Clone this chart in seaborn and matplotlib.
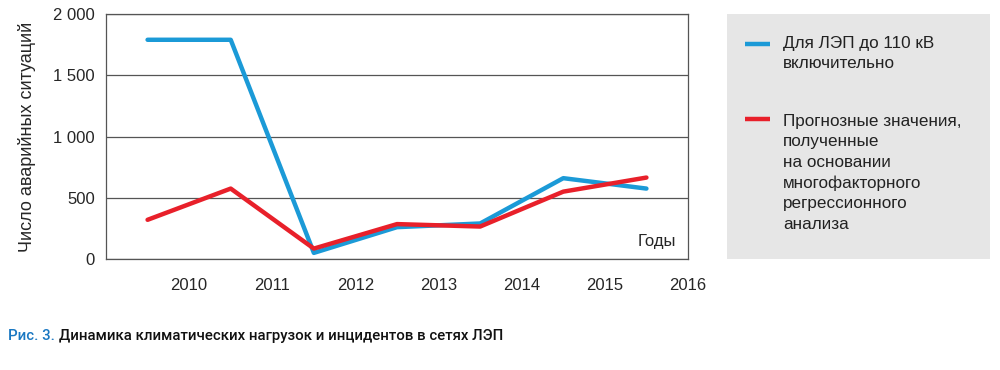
import numpy as np
import pandas as pd
import matplotlib
matplotlib.use("Agg")
import matplotlib.pyplot as plt
import matplotlib.ticker as mticker
from matplotlib.patches import Rectangle
from matplotlib.lines import Line2D
import seaborn as sns

# data (points sit mid-year)
years = [2009.5, 2010.5, 2011.5, 2012.5, 2013.5, 2014.5, 2015.5]
actual = [1790, 1790, 50, 260, 290, 660, 575]
forecast = [320, 575, 85, 285, 265, 550, 665]
label_actual = "Для ЛЭП до 110 кВ\nвключительно"
label_forecast = ("Прогнозные значения,\nполученные\nна основании\n"
                  "многофакторного\nрегрессионного\nанализа")
xticks = [2009, 2010, 2011, 2012, 2013, 2014, 2015, 2016]
xticklabels = ["", "2010", "2011", "2012", "2013", "2014", "2015", "2016"]
yticks = [0, 500, 1000, 1500, 2000]

df = pd.DataFrame({
    "year": years * 2,
    "value": actual + forecast,
    "series": [label_actual] * len(years) + [label_forecast] * len(years),
})

sns.set_style("white")
plt.rcParams["font.family"] = ["Liberation Sans", "DejaVu Sans"]

fig = plt.figure(figsize=(10, 3.7), dpi=100)
ax = fig.add_axes([0.106, 0.30, 0.582, 0.662])

blue = "#1b9ad7"
red = "#e8202a"
sns.lineplot(data=df, x="year", y="value", hue="series",
             palette={label_actual: blue, label_forecast: red},
             linewidth=3.2, ax=ax, legend=False)

ax.set_xlim(2009, 2016)
ax.set_ylim(0, 2000)
ax.set_xticks(xticks)
ax.set_xticklabels(xticklabels)
ax.set_yticks(yticks)
ax.yaxis.set_major_formatter(mticker.FuncFormatter(
    lambda v, p: f"{int(v):,}".replace(",", " ")))
ax.grid(axis="y", color="#555555", linewidth=0.9)
ax.set_axisbelow(True)
for s in ax.spines.values():
    s.set_color("#555555")
    s.set_linewidth(0.9)
ax.tick_params(axis="x", length=7, width=0.9, color="#555555",
               labelsize=12, pad=7, direction="out")
ax.tick_params(axis="y", length=0, labelsize=12, pad=8)
ax.set_xlabel("")
ax.set_ylabel("Число аварийных ситуаций", fontsize=13, labelpad=12)
ax.text(0.947, 0.07, "Годы", transform=ax.transAxes, fontsize=12,
        ha="center", va="center")

# grey legend panel
fig.patches.append(Rectangle((0.727, 0.30), 0.263, 0.662,
                             transform=fig.transFigure,
                             facecolor="#e6e6e6", edgecolor="none"))
for color, label, y_line, y_text in [(blue, label_actual, 44, 36),
                                     (red, label_forecast, 119, 114)]:
    fig.lines.append(Line2D([0.745, 0.770], [1 - y_line / 370] * 2,
                            transform=fig.transFigure, color=color,
                            linewidth=3.2, solid_capstyle="butt"))
    fig.text(0.783, 1 - y_text / 370, label, fontsize=12.3, va="top",
             ha="left", linespacing=1.45, color="#222222")

# caption
cap_font = ["Roboto", "Liberation Sans", "DejaVu Sans"]
t1 = fig.text(0.008, 0.092, "Рис. 3.", color="#1a78c2", fontsize=10.8,
              family=cap_font, fontweight="medium", va="center")
fig.canvas.draw()
bb = t1.get_window_extent()
x2 = (bb.x1 + 4) / fig.bbox.width
fig.text(x2, 0.092, "Динамика климатических нагрузок и инцидентов в сетях ЛЭП",
         color="#111111", fontsize=10.8, family=cap_font,
         fontweight="medium", va="center")

fig.savefig("out.png", dpi=100)
